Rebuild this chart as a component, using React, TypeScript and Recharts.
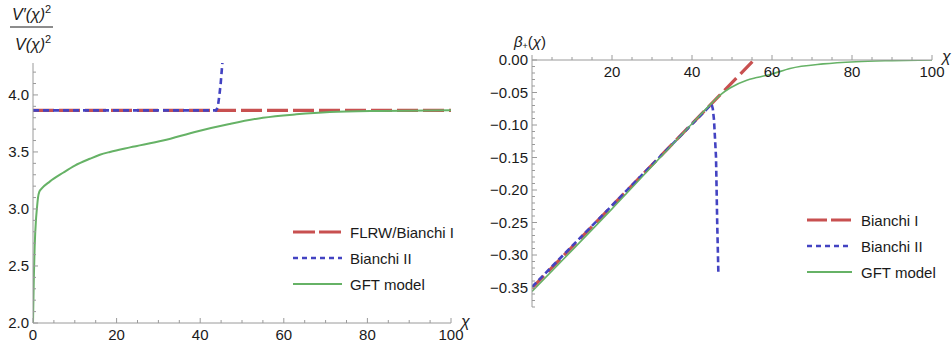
import { LineChart, Line, XAxis, YAxis, Legend } from 'recharts';

const RED = '#c85050';
const BLUE = '#4343c2';
const GREEN = '#66b266';
const AXIS = '#9a9a9a';
const INK = '#1a1a1a';
const FONT = '"Liberation Sans", Arial, sans-serif';

// left panel: V'(χ)^2 / V(χ)^2
const flrwLeft = [
  { chi: 0, v: 3.865 },
  { chi: 100, v: 3.865 },
];
const bianchiIILeft = [
  { chi: 0, v: 3.865 },
  { chi: 43.8, v: 3.865 },
  { chi: 44.2, v: 3.89 },
  { chi: 44.6, v: 4.0 },
  { chi: 44.9, v: 4.1 },
  { chi: 45.3, v: 4.28 },
];
const gftLeft = [
  { chi: 0, v: 2.0 },
  { chi: 0.2, v: 2.4 },
  { chi: 0.4, v: 2.67 },
  { chi: 0.7, v: 2.9 },
  { chi: 0.9, v: 2.99 },
  { chi: 1.2, v: 3.1 },
  { chi: 1.5, v: 3.15 },
  { chi: 2.1, v: 3.18 },
  { chi: 4, v: 3.24 },
  { chi: 7.3, v: 3.32 },
  { chi: 10, v: 3.38 },
  { chi: 13.6, v: 3.44 },
  { chi: 16, v: 3.475 },
  { chi: 18.4, v: 3.5 },
  { chi: 23.2, v: 3.54 },
  { chi: 31.1, v: 3.6 },
  { chi: 39.2, v: 3.68 },
  { chi: 47, v: 3.745 },
  { chi: 55, v: 3.8 },
  { chi: 63, v: 3.83 },
  { chi: 71, v: 3.85 },
  { chi: 83, v: 3.86 },
  { chi: 100, v: 3.865 },
];

// right panel: β+(χ)
const bianchiIRight = [
  { chi: 0, v: -0.351 },
  { chi: 55.5, v: 0 },
];
const bianchiIIRight = [
  { chi: 0, v: -0.349 },
  { chi: 44.9, v: -0.068 },
  { chi: 45.2, v: -0.075 },
  { chi: 45.5, v: -0.092 },
  { chi: 46, v: -0.149 },
  { chi: 46.3, v: -0.25 },
  { chi: 46.6, v: -0.33 },
];
const gftRight = [
  { chi: 0, v: -0.356 },
  { chi: 20, v: -0.229 },
  { chi: 40, v: -0.098 },
  { chi: 45, v: -0.066 },
  { chi: 47, v: -0.054 },
  { chi: 49.5, v: -0.043 },
  { chi: 53.7, v: -0.031 },
  { chi: 56.2, v: -0.027 },
  { chi: 60, v: -0.0215 },
  { chi: 64.5, v: -0.013 },
  { chi: 72.8, v: -0.006 },
  { chi: 81, v: -0.0026 },
  { chi: 90, v: -0.001 },
  { chi: 100, v: 0 },
];

const xTicks = Array.from({ length: 21 }, (_, i) => i * 5);
const xLabels = [0, 20, 40, 60, 80, 100];
const yTicksLeft = Array.from({ length: 23 }, (_, i) => Math.round((2 + i * 0.1) * 10) / 10);
const yLabelsLeft = [2.0, 2.5, 3.0, 3.5, 4.0];
const yTicksRight = Array.from({ length: 39 }, (_, i) => -i / 100);
const yLabelsRight = [0, -0.05, -0.1, -0.15, -0.2, -0.25, -0.3, -0.35];

const legendLeft = [
  { name: 'FLRW/Bianchi I', color: RED, dash: '22 4', width: 3.2 },
  { name: 'Bianchi II', color: BLUE, dash: '5 4', width: 2.4 },
  { name: 'GFT model', color: GREEN, dash: undefined, width: 2 },
];
const legendRight = [
  { name: 'Bianchi I', color: RED, dash: '20 4', width: 3.2 },
  { name: 'Bianchi II', color: BLUE, dash: '5 4', width: 2.4 },
  { name: 'GFT model', color: GREEN, dash: undefined, width: 2 },
];

const isIn = (list: number[], v: number) => list.some((m) => Math.abs(m - v) < 1e-9);

function XTick(props: any) {
  const { x, y, payload, hideZero } = props;
  const v = payload.value;
  const major = isIn(xLabels, v);
  return (
    <g>
      <line x1={x} x2={x} y1={y} y2={y - (major ? 5 : 3)} stroke={AXIS} />
      {major && !(hideZero && v === 0) && (
        <text x={x} y={y + 17} textAnchor="middle" fontSize={15} fill={INK} fontFamily={FONT}>
          {v}
        </text>
      )}
    </g>
  );
}

function YTick(props: any) {
  const { x, y, payload, labels, fmt } = props;
  const v = payload.value;
  const major = isIn(labels, v);
  return (
    <g>
      <line x1={x} x2={x + (major ? 5 : 3)} y1={y} y2={y} stroke={AXIS} />
      {major && (
        <text x={x - 4} y={y + 5} textAnchor="end" fontSize={15} fill={INK} fontFamily={FONT}>
          {fmt(v)}
        </text>
      )}
    </g>
  );
}

function LegendBox({ items, lineLen, gap }: { items: typeof legendLeft; lineLen: number; gap: number }) {
  return (
    <div style={{ fontFamily: FONT, fontSize: 15, color: INK }}>
      {items.map((it) => (
        <div key={it.name} style={{ display: 'flex', alignItems: 'center', height: 26 }}>
          <svg width={lineLen} height={10} style={{ marginRight: gap }}>
            <line x1={0} x2={lineLen} y1={5} y2={5} stroke={it.color} strokeWidth={it.width} strokeDasharray={it.dash} />
          </svg>
          <span style={{ whiteSpace: 'nowrap' }}>{it.name}</span>
        </div>
      ))}
    </div>
  );
}

export default function App() {
  return (
    <div style={{ position: 'absolute', left: 0, top: 0, width: 952, height: 345, background: '#fff' }}>
      <div style={{ position: 'absolute', left: 0, top: 0 }}>
        <LineChart width={475} height={345} margin={{ top: 63, right: 24, bottom: 0, left: 0 }}>
          <XAxis
            dataKey="chi"
            type="number"
            domain={[0, 100]}
            ticks={xTicks}
            interval={0}
            height={22}
            tickSize={0}
            tickMargin={0}
            tickLine={false}
            axisLine={{ stroke: AXIS }}
            allowDataOverflow
            tick={(p: any) => <XTick {...p} />}
          />
          <YAxis
            type="number"
            domain={[2, 4.28]}
            ticks={yTicksLeft}
            interval={0}
            width={33}
            tickSize={0}
            tickMargin={0}
            tickLine={false}
            axisLine={{ stroke: AXIS }}
            allowDataOverflow
            tick={(p: any) => <YTick {...p} labels={yLabelsLeft} fmt={(v: number) => v.toFixed(1)} />}
          />
          <Legend
            layout="vertical"
            align="center"
            verticalAlign="middle"
            wrapperStyle={{ left: 293, top: 219, width: 170 }}
            content={() => <LegendBox items={legendLeft} lineLen={49} gap={8} />}
          />
          <Line data={flrwLeft} dataKey="v" type="linear" stroke={RED} strokeWidth={3.2} strokeDasharray="21 5" dot={false} isAnimationActive={false} />
          <Line data={bianchiIILeft} dataKey="v" type="linear" stroke={BLUE} strokeWidth={2.6} strokeDasharray="6 4" dot={false} isAnimationActive={false} />
          <Line data={gftLeft} dataKey="v" type="monotone" stroke={GREEN} strokeWidth={2} dot={false} isAnimationActive={false} />
        </LineChart>
      </div>
      <div style={{ position: 'absolute', left: 475, top: 0 }}>
        <LineChart width={477} height={345} margin={{ top: 40, right: 20, bottom: 38, left: 0 }}>
          <XAxis
            dataKey="chi"
            type="number"
            orientation="top"
            domain={[0, 100]}
            ticks={xTicks}
            interval={0}
            height={20}
            tickSize={0}
            tickMargin={0}
            tickLine={false}
            axisLine={{ stroke: AXIS }}
            allowDataOverflow
            tick={(p: any) => <XTick {...p} hideZero />}
          />
          <YAxis
            type="number"
            domain={[-0.38, 0]}
            ticks={yTicksRight}
            interval={0}
            width={57}
            tickSize={0}
            tickMargin={0}
            tickLine={false}
            axisLine={{ stroke: AXIS }}
            allowDataOverflow
            tick={(p: any) => (
              <YTick {...p} labels={yLabelsRight} fmt={(v: number) => (Math.abs(v) < 1e-9 ? '0.00' : '\u2212' + Math.abs(v).toFixed(2))} />
            )}
          />
          <Legend
            layout="vertical"
            align="center"
            verticalAlign="middle"
            wrapperStyle={{ left: 332, top: 207, width: 140 }}
            content={() => <LegendBox items={legendRight} lineLen={45} gap={9} />}
          />
          <Line data={bianchiIRight} dataKey="v" type="linear" stroke={RED} strokeWidth={3.2} strokeDasharray="17 6" dot={false} isAnimationActive={false} />
          <Line data={bianchiIIRight} dataKey="v" type="linear" stroke={BLUE} strokeWidth={2.6} strokeDasharray="6 3.5" dot={false} isAnimationActive={false} />
          <Line data={gftRight} dataKey="v" type="monotone" stroke={GREEN} strokeWidth={1.6} dot={false} isAnimationActive={false} />
        </LineChart>
      </div>
      <svg width={952} height={345} style={{ position: 'absolute', left: 0, top: 0, pointerEvents: 'none' }} fontFamily={FONT} fill={INK}>
        <text x={12} y={20} fontSize={16} fontStyle="italic">
          V′(χ)<tspan dy={-7} fontSize={11} fontStyle="normal">2</tspan>
        </text>
        <line x1={10} x2={53} y1={27} y2={27} stroke={INK} strokeWidth={1} />
        <text x={15} y={50} fontSize={16} fontStyle="italic">
          V(χ)<tspan dy={-7} fontSize={11} fontStyle="normal">2</tspan>
        </text>
        <text x={461} y={327} fontSize={16} fontStyle="italic">χ</text>
        <text x={514} y={47} fontSize={15}>
          <tspan fontStyle="italic">β</tspan>
          <tspan fontSize={9} dy={2}>+</tspan>
          <tspan dy={-2}>(</tspan>
          <tspan fontStyle="italic">χ</tspan>
          <tspan>)</tspan>
        </text>
        <text x={942} y={62} fontSize={16} fontStyle="italic">χ</text>
      </svg>
    </div>
  );
}
